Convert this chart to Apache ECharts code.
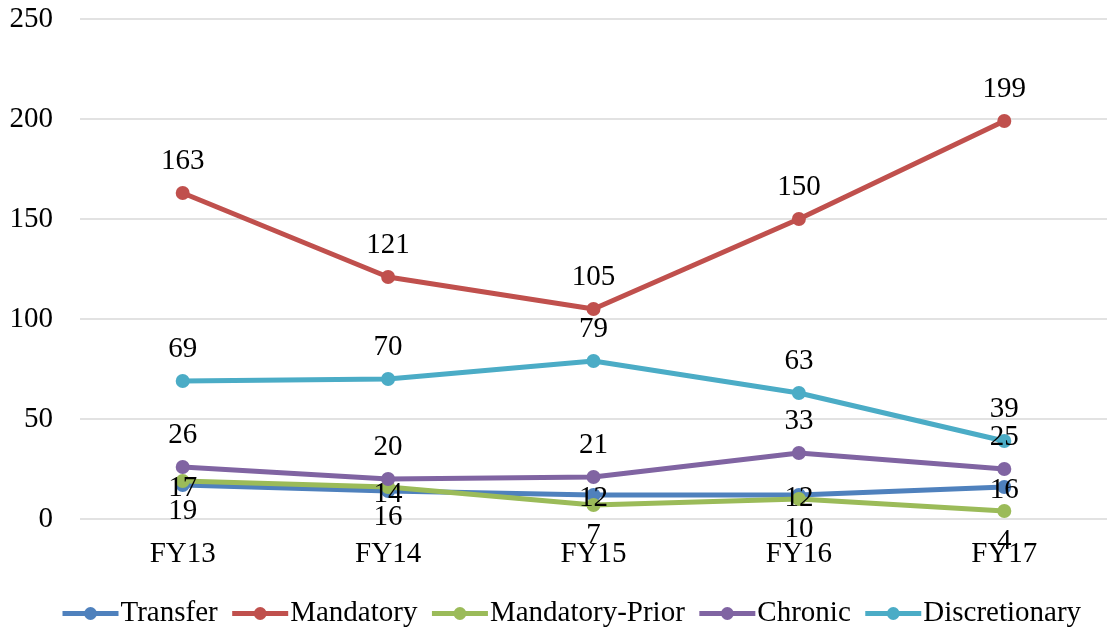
<!DOCTYPE html>
<html>
<head>
<meta charset="utf-8">
<script src="https://cdn.jsdelivr.net/npm/echarts@6/dist/echarts.min.js"></script>
<style>
  html, body { margin: 0; padding: 0; background: #ffffff; }
  #chart { width: 1107px; height: 632px; }
</style>
</head>
<body>
<div id="chart"></div>
<script>
// Fiscal years on the category axis
const years = ['FY13', 'FY14', 'FY15', 'FY16', 'FY17'];

// Counts per category
const transfer = [17, 14, 12, 12, 16];
const mandatory = [163, 121, 105, 150, 199];
const mandatoryPrior = [19, 16, 7, 10, 4];
const chronic = [26, 20, 21, 33, 25];
const discretionary = [69, 70, 79, 63, 39];

// Value axis ticks
const yTicks = [0, 50, 100, 150, 200, 250];

const FONT = '"Liberation Serif", "Times New Roman", serif';
const FS = 29;

function lineSeries(name, data, color, label) {
  return {
    name: name,
    type: 'line',
    data: data,
    symbol: 'circle',
    symbolSize: 14,
    color: color,
    lineStyle: { width: 5, color: color },
    itemStyle: { color: color },
    label: Object.assign({
      show: true,
      color: '#000000',
      fontFamily: FONT,
      fontSize: FS
    }, label),
    emphasis: { disabled: true },
    animation: false
  };
}

const chart = echarts.init(document.getElementById('chart'), null, { renderer: 'canvas' });
chart.setOption({
  backgroundColor: '#ffffff',
  animation: false,
  grid: { left: 80, right: -6, top: 19, bottom: 113, containLabel: false },
  legend: {
    left: 55,
    top: 594,
    itemWidth: 56,
    itemHeight: 16,
    itemGap: 12,
    lineStyle: { width: 5 },
    textStyle: { color: '#000000', fontFamily: FONT, fontSize: FS, padding: [0, 0, 0, -3] },
    data: ['Transfer', 'Mandatory', 'Mandatory-Prior', 'Chronic', 'Discretionary']
  },
  xAxis: {
    type: 'category',
    data: years,
    boundaryGap: true,
    axisLine: { show: false },
    axisTick: { show: false },
    axisLabel: { color: '#000000', fontFamily: FONT, fontSize: FS, margin: 21 }
  },
  yAxis: {
    type: 'value',
    min: yTicks[0],
    max: yTicks[yTicks.length - 1],
    interval: yTicks[1] - yTicks[0],
    axisLine: { show: false },
    axisTick: { show: false },
    splitLine: { lineStyle: { color: '#d9d9d9', width: 1.5 } },
    axisLabel: { color: '#000000', fontFamily: FONT, fontSize: FS, margin: 27 }
  },
  series: [
    lineSeries('Transfer', transfer, '#4F81BD', { position: 'inside', offset: [0, 3] }),
    lineSeries('Mandatory', mandatory, '#C0504D', { position: 'top', distance: 10 }),
    lineSeries('Mandatory-Prior', mandatoryPrior, '#9BBB59', { position: 'bottom', distance: 9 }),
    lineSeries('Chronic', chronic, '#8064A2', { position: 'top', distance: 10 }),
    lineSeries('Discretionary', discretionary, '#4BACC6', { position: 'top', distance: 10 })
  ]
});
</script>
</body>
</html>
